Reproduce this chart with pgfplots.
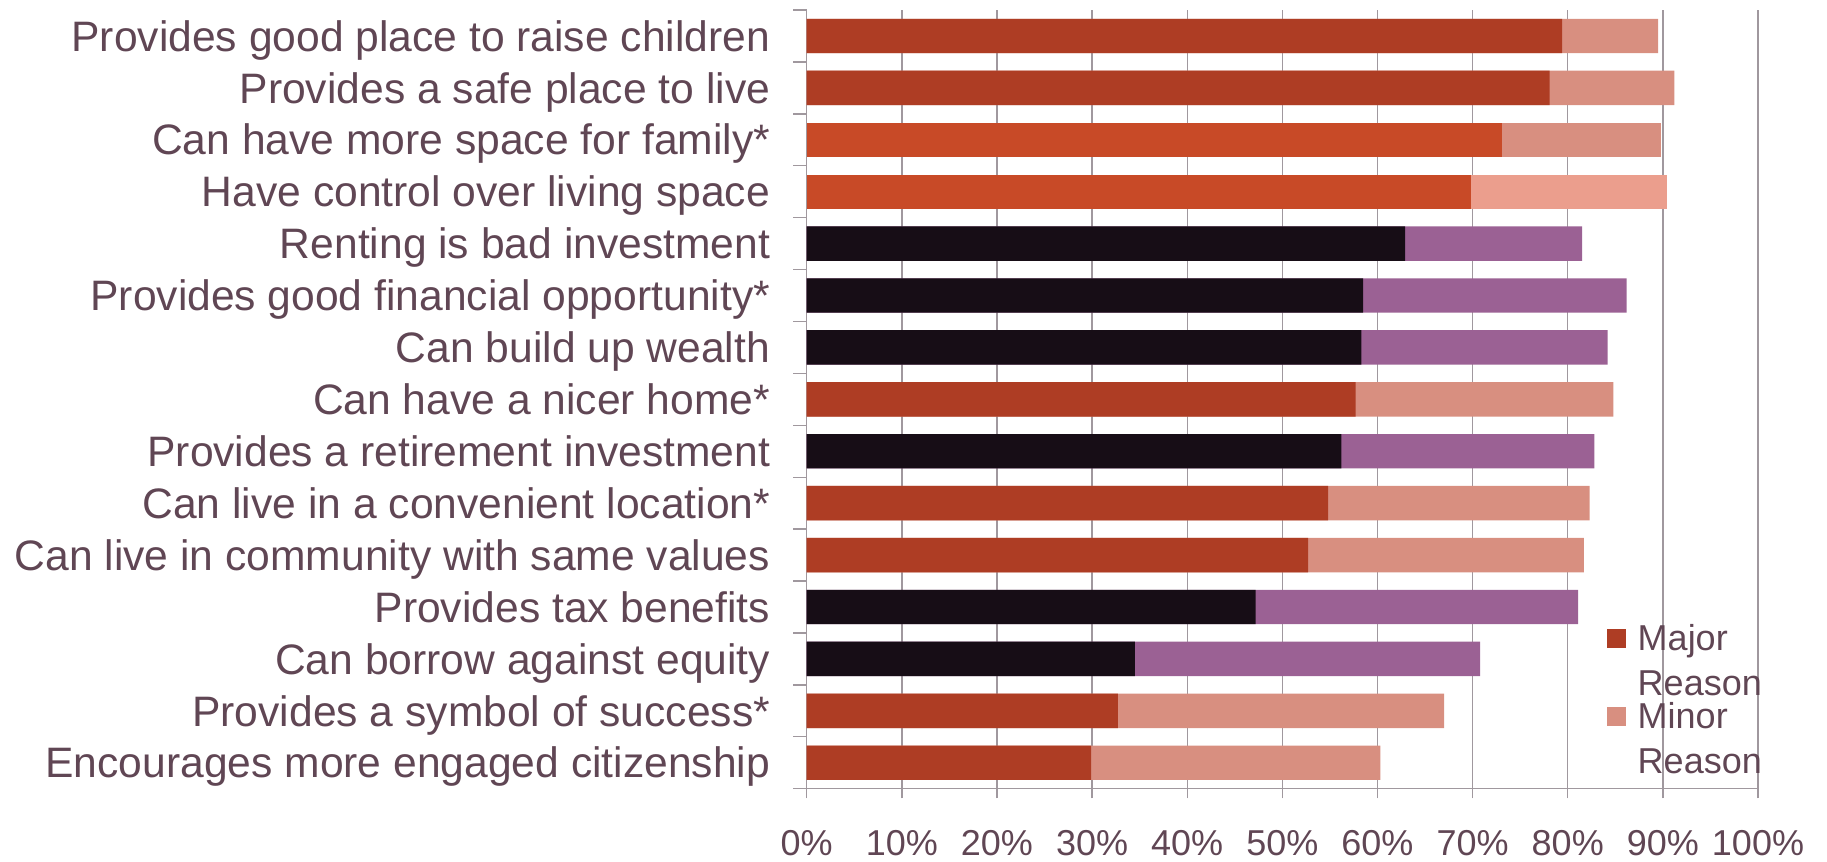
\documentclass[border=0pt]{standalone}
\usepackage{fontspec}
\setmainfont{Liberation Sans}
\usepackage{pgfplots}
\pgfplotsset{compat=1.18}
\usepackage{pgfplotstable}
\definecolor{mred}{RGB}{174,61,36}
\definecolor{mora}{RGB}{200,74,39}
\definecolor{mblk}{RGB}{23,13,22}
\definecolor{nsal}{RGB}{216,143,128}
\definecolor{nlsal}{RGB}{235,158,141}
\definecolor{npur}{RGB}{155,97,148}
\definecolor{txt}{RGB}{96,70,84}
\definecolor{grd}{RGB}{160,152,158}

% row  major  total(major+minor)
\pgfplotstableread{
row major total
1  79.4 89.5
2  78.1 91.2
8  57.7 84.8
10 54.8 82.3
11 52.7 81.7
14 32.7 67.0
15 29.9 60.3
}\tabRed
\pgfplotstableread{
row major total
3 73.1 89.8
}\tabOraA
\pgfplotstableread{
row major total
4 69.8 90.4
}\tabOraB
\pgfplotstableread{
row major total
5  62.9 81.5
6  58.5 86.2
7  58.3 84.2
9  56.2 82.8
12 47.2 81.1
13 34.5 70.8
}\tabBlk

\begin{document}
\begin{tikzpicture}
\useasboundingbox (0,0) rectangle (913.5pt,431pt);
\begin{axis}[
  at={(403.35pt,36.65pt)}, anchor=south west,
  scale only axis, width=475.65pt, height=389.35pt,
  xbar, bar shift=0pt, bar width=17.2pt,
  xmin=0, xmax=100, ymin=0.5, ymax=15.5, y dir=reverse,
  enlargelimits=false,
  axis lines*=left,
  axis line style={draw=grd, line width=0.7pt, -},
  tick align=outside,
  major tick length=4.8pt,
  xtick={0,10,...,100},
  xticklabels={0\%,10\%,20\%,30\%,40\%,50\%,60\%,70\%,80\%,90\%,100\%},
  x tick style={draw=grd, line width=0.7pt},
  xmajorgrids,
  grid style={draw=grd, line width=0.7pt},
  ytick={1,...,15},
  yticklabels={Provides good place to raise children,
    Provides a safe place to live,
    Can have more space for family*,
    Have control over living space,
    Renting is bad investment,
    Provides good financial opportunity*,
    Can build up wealth,
    Can have a nicer home*,
    Provides a retirement investment,
    Can live in a convenient location*,
    Can live in community with same values,
    Provides tax benefits,
    Can borrow against equity,
    Provides a symbol of success*,
    Encourages more engaged citizenship},
  y tick style={draw=none},
  extra y ticks={0.5,1.5,...,15.5},
  extra y tick labels={},
  extra y tick style={y tick style={draw=grd, line width=0.7pt}, major tick length=6.7pt},
  xticklabel style={font=\fontsize{18}{22}\selectfont, text=txt, anchor=north, inner sep=0pt, yshift=-15.8pt},
  yticklabel style={font=\fontsize{21.3}{25}\selectfont, text=txt, anchor=base east, inner sep=0pt, xshift=-13.3pt, yshift=-7.6pt},
  legend style={at={(axis cs:84.1,12.33)}, anchor=north west, draw=none, fill=none,
    inner sep=0pt, outer sep=0pt, font=\fontsize{18}{22.5}\selectfont, text=txt,
    nodes={inner sep=0pt, align=left}, column sep=6pt, row sep=2pt},
  legend cell align=left,
  legend image code/.code={\fill[#1] (0pt,6.75pt) rectangle (9.5pt,16.25pt);},
]
\addplot[fill=nsal, draw=none, forget plot] table[x=total, y=row]{\tabRed};
\addplot[fill=nsal, draw=none, forget plot] table[x=total, y=row]{\tabOraA};
\addplot[fill=nlsal, draw=none, forget plot] table[x=total, y=row]{\tabOraB};
\addplot[fill=npur, draw=none, forget plot] table[x=total, y=row]{\tabBlk};
\addplot[fill=mred, draw=none, forget plot] table[x=major, y=row]{\tabRed};
\addplot[fill=mora, draw=none, forget plot] table[x=major, y=row]{\tabOraA};
\addplot[fill=mora, draw=none, forget plot] table[x=major, y=row]{\tabOraB};
\addplot[fill=mblk, draw=none, forget plot] table[x=major, y=row]{\tabBlk};
\addlegendimage{fill=mred, draw=none}
\addlegendentry{Major\\Reason}
\addlegendimage{fill=nsal, draw=none}
\addlegendentry{Minor\\Reason}
\end{axis}
\end{tikzpicture}
\end{document}
